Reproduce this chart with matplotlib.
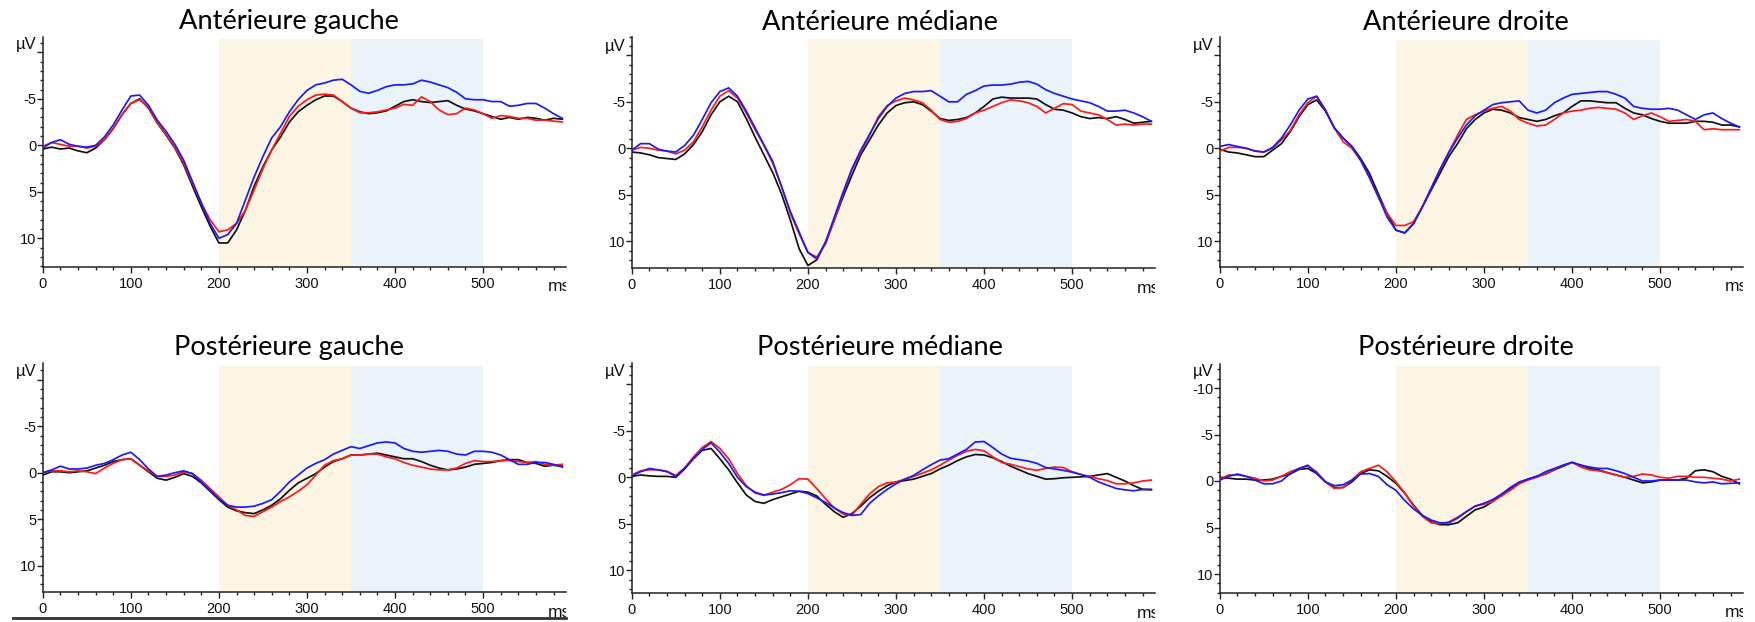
import numpy as np
import matplotlib
matplotlib.use("Agg")
import matplotlib.pyplot as plt
from matplotlib.ticker import MultipleLocator, FixedLocator, FixedFormatter
from matplotlib.transforms import Bbox, TransformedBbox
from matplotlib.lines import Line2D

# ---------------- data (µV, negative up) ----------------
time_ms = np.arange(0, 600, 10)

titles = ["Antérieure gauche", "Antérieure médiane", "Antérieure droite",
          "Postérieure gauche", "Postérieure médiane", "Postérieure droite"]

x_ticks = [0, 100, 200, 300, 400, 500]
x_ticklabels = ["0", "100", "200", "300", "400", "500"]
y_ticks = [-10, -5, 0, 5, 10]
window1 = (200, 350)
window2 = (350, 500)

ant_gauche_noir = [
    0.4, 0.2, 0.4, 0.3, 0.6, 0.8, 0.3, -0.6, -1.8, -3.3,
    -4.5, -5.0, -4.0, -2.4, -1.1, 0.3, 2.1, 4.4, 6.6, 8.7,
    10.5, 10.5, 9.1, 7.0, 4.4, 2.3, 0.5, -0.9, -2.5, -3.6,
    -4.3, -4.9, -5.3, -5.3, -4.7, -4.0, -3.6, -3.4, -3.5, -3.7,
    -4.2, -4.7, -4.9, -4.7, -4.6, -4.7, -4.8, -4.3, -3.9, -3.7,
    -3.4, -3.1, -2.8, -3.0, -2.8, -3.0, -2.9, -2.7, -2.9, -2.8]
ant_gauche_rouge = [
    0.1, -0.3, -0.1, 0.1, 0.1, 0.3, 0.1, -0.6, -1.8, -3.3,
    -4.5, -4.9, -4.1, -2.4, -1.2, 0.2, 1.9, 4.1, 6.2, 8.0,
    9.3, 9.1, 8.4, 7.0, 4.8, 2.5, 0.5, -1.3, -3.1, -4.2,
    -4.9, -5.4, -5.5, -5.4, -4.7, -4.0, -3.5, -3.5, -3.6, -3.8,
    -4.0, -4.4, -4.3, -5.2, -4.7, -3.8, -3.3, -3.4, -4.0, -3.8,
    -3.4, -2.9, -3.2, -3.1, -2.9, -2.9, -2.7, -2.7, -2.6, -2.5]
ant_gauche_bleu = [
    0.3, -0.3, -0.6, -0.1, 0.1, 0.2, 0.0, -0.9, -2.2, -3.8,
    -5.3, -5.4, -4.3, -2.7, -1.5, -0.1, 1.6, 3.9, 6.2, 8.4,
    10.0, 9.6, 8.4, 5.9, 3.4, 1.2, -0.8, -2.0, -3.6, -4.9,
    -5.9, -6.5, -6.7, -7.0, -7.1, -6.5, -5.8, -5.6, -5.9, -6.3,
    -6.5, -6.5, -6.6, -7.0, -6.8, -6.5, -6.2, -5.7, -5.0, -4.9,
    -4.9, -4.7, -4.7, -4.2, -4.3, -4.5, -4.5, -4.0, -3.4, -2.9]

ant_mediane_noir = [
    0.4, 0.5, 0.7, 1.0, 1.1, 1.2, 0.6, -0.4, -1.8, -3.6,
    -5.0, -5.6, -5.0, -3.2, -1.2, 0.7, 2.6, 4.9, 7.7, 10.8,
    12.6, 12.0, 10.1, 7.7, 5.2, 2.9, 0.7, -0.9, -2.5, -3.8,
    -4.6, -4.9, -5.0, -4.7, -4.0, -3.2, -3.0, -3.1, -3.3, -3.8,
    -4.5, -5.3, -5.5, -5.4, -5.4, -5.4, -5.3, -4.7, -4.2, -4.1,
    -3.8, -3.4, -3.2, -3.3, -3.2, -3.4, -3.1, -2.7, -2.8, -2.9]
ant_mediane_rouge = [
    0.2, -0.1, 0.0, 0.2, 0.3, 0.6, 0.2, -0.7, -2.3, -4.1,
    -5.6, -6.2, -5.4, -3.8, -2.0, -0.3, 1.6, 4.1, 7.0, 9.2,
    11.2, 11.7, 10.3, 7.7, 4.9, 2.3, 0.4, -1.4, -3.4, -4.6,
    -5.1, -5.4, -5.2, -4.9, -4.1, -3.1, -2.8, -2.9, -3.2, -3.8,
    -4.1, -4.5, -4.9, -5.2, -5.1, -4.9, -4.5, -3.8, -4.3, -4.8,
    -4.7, -4.0, -3.8, -3.6, -3.1, -2.5, -2.6, -2.5, -2.6, -2.6]
ant_mediane_bleu = [
    0.2, -0.5, -0.5, 0.1, 0.3, 0.4, -0.3, -1.4, -3.1, -4.9,
    -6.1, -6.5, -5.6, -4.0, -2.2, -0.4, 1.4, 4.1, 6.8, 9.0,
    11.2, 11.9, 10.1, 7.4, 4.7, 2.2, 0.2, -1.5, -3.2, -4.5,
    -5.4, -5.9, -6.1, -6.1, -6.2, -5.6, -5.0, -5.0, -5.8, -6.2,
    -6.7, -6.8, -6.8, -6.9, -7.1, -7.2, -6.9, -6.3, -5.9, -5.6,
    -5.3, -5.1, -4.9, -4.5, -4.0, -4.0, -4.1, -3.8, -3.4, -2.9]

ant_droite_noir = [
    0.1, 0.4, 0.5, 0.7, 0.9, 0.9, 0.2, -0.5, -1.8, -3.4,
    -4.7, -5.2, -4.0, -2.2, -1.1, -0.2, 1.1, 2.7, 4.9, 7.0,
    8.8, 9.1, 8.1, 6.3, 4.5, 2.7, 0.9, -0.5, -2.1, -3.1,
    -3.8, -4.2, -4.1, -3.8, -3.3, -3.1, -2.9, -3.1, -3.5, -3.8,
    -4.5, -5.1, -5.1, -5.0, -4.9, -4.9, -4.3, -3.8, -3.6, -3.2,
    -2.9, -2.7, -2.7, -2.7, -2.9, -2.9, -2.8, -2.5, -2.5, -2.3]
ant_droite_rouge = [
    0.3, -0.1, -0.1, 0.0, 0.3, 0.4, 0.0, -0.9, -1.9, -3.6,
    -4.9, -5.6, -4.1, -2.2, -0.7, 0.0, 1.3, 3.2, 5.2, 7.0,
    8.3, 8.3, 7.9, 6.3, 4.3, 2.3, 0.4, -1.4, -3.1, -3.6,
    -4.0, -4.3, -4.5, -4.0, -3.1, -2.7, -2.4, -2.5, -3.1, -3.8,
    -4.0, -4.1, -4.3, -4.4, -4.3, -4.2, -3.8, -3.1, -3.5, -3.8,
    -3.4, -2.9, -3.0, -3.1, -2.9, -2.0, -2.1, -2.0, -2.0, -2.0]
ant_droite_bleu = [
    -0.2, -0.4, -0.2, 0.0, 0.3, 0.4, -0.1, -1.1, -2.5, -4.1,
    -5.3, -5.6, -4.1, -2.2, -1.1, -0.2, 1.3, 3.1, 5.2, 7.4,
    8.8, 9.1, 8.1, 6.3, 4.3, 2.3, 0.5, -1.1, -2.5, -3.5,
    -4.1, -4.7, -4.9, -5.0, -5.1, -4.1, -3.8, -4.1, -4.9, -5.4,
    -5.8, -5.9, -6.0, -6.1, -6.1, -5.8, -5.4, -4.5, -4.3, -4.2,
    -4.2, -4.3, -4.1, -3.6, -3.1, -3.6, -3.8, -3.2, -2.7, -2.3]

post_gauche_noir = [
    0.25, -0.1, -0.1, 0.0, -0.1, -0.2, -0.5, -0.8, -1.2, -1.4,
    -1.5, -0.8, -0.1, 0.6, 0.8, 0.5, 0.1, 0.4, 1.1, 2.0,
    2.9, 3.7, 4.1, 4.3, 4.4, 4.0, 3.5, 2.8, 1.9, 1.1,
    0.6, 0.1, -0.6, -1.2, -1.5, -1.9, -1.9, -2.0, -2.1, -1.9,
    -1.7, -1.5, -1.5, -1.2, -0.8, -0.5, -0.3, -0.4, -0.6, -0.9,
    -1.0, -1.1, -1.3, -1.4, -1.4, -1.1, -1.0, -0.7, -0.8, -0.7]
post_gauche_rouge = [
    0.0, -0.2, -0.2, -0.1, -0.2, -0.1, 0.1, -0.5, -1.0, -1.4,
    -1.5, -0.8, -0.2, 0.4, 0.4, 0.25, -0.1, 0.1, 0.8, 1.7,
    2.6, 3.5, 4.0, 4.6, 4.7, 4.2, 3.7, 3.1, 2.6, 2.0,
    1.3, 0.25, -0.8, -1.3, -1.5, -1.9, -1.9, -2.0, -2.0, -1.7,
    -1.5, -1.1, -0.8, -0.6, -0.4, -0.3, -0.3, -0.5, -1.0, -1.3,
    -1.2, -1.2, -1.3, -1.3, -1.2, -1.1, -1.2, -0.9, -0.8, -0.9]
post_gauche_bleu = [
    0.0, -0.3, -0.7, -0.4, -0.4, -0.5, -0.8, -1.0, -1.4, -1.9,
    -2.2, -1.4, -0.4, 0.4, 0.25, 0.0, -0.2, 0.1, 1.0, 1.9,
    2.8, 3.5, 3.7, 3.7, 3.6, 3.3, 2.9, 2.0, 1.0, 0.25,
    -0.5, -1.0, -1.4, -2.0, -2.4, -2.8, -2.6, -2.9, -3.2, -3.3,
    -3.2, -2.6, -2.3, -2.2, -2.3, -2.4, -2.3, -2.0, -1.9, -2.3,
    -2.3, -2.2, -1.9, -1.4, -0.9, -0.9, -1.1, -1.1, -0.9, -0.6]

post_mediane_noir = [
    -0.1, -0.25, -0.15, -0.1, -0.1, 0.0, -0.9, -2.0, -2.9, -3.1,
    -2.0, -0.8, 0.6, 1.9, 2.6, 2.8, 2.4, 2.1, 1.8, 1.5,
    1.6, 2.0, 2.9, 3.7, 4.3, 3.9, 3.1, 2.2, 1.5, 0.9,
    0.5, 0.35, 0.2, -0.1, -0.4, -0.9, -1.3, -1.8, -2.2, -2.45,
    -2.4, -2.1, -1.7, -1.2, -0.8, -0.4, -0.1, 0.2, 0.15, 0.05,
    0.0, -0.05, -0.1, -0.25, -0.4, 0.0, 0.4, 0.9, 1.3, 1.3]
post_mediane_rouge = [
    -0.25, -0.7, -0.8, -0.8, -0.65, -0.2, -1.0, -2.2, -3.2, -3.85,
    -3.1, -2.0, -0.4, 0.9, 1.7, 1.95, 1.6, 1.3, 0.8, 0.15,
    0.2, 1.2, 2.3, 3.3, 3.95, 4.1, 2.9, 1.8, 1.0, 0.6,
    0.5, 0.2, -0.1, -0.45, -0.8, -1.3, -1.85, -2.35, -2.8, -3.0,
    -2.85, -2.2, -1.6, -1.4, -1.15, -0.9, -0.75, -0.95, -1.1, -1.05,
    -0.6, -0.3, -0.1, 0.15, 0.35, 0.7, 0.7, 0.6, 0.4, 0.3]
post_mediane_bleu = [
    -0.15, -0.6, -0.95, -0.8, -0.6, -0.1, -1.0, -2.0, -3.0, -3.7,
    -2.7, -1.5, 0.0, 1.0, 1.6, 1.9, 1.8, 1.65, 1.45, 1.5,
    1.75, 2.2, 2.7, 3.3, 3.8, 4.1, 4.0, 2.8, 2.0, 1.3,
    0.7, 0.2, -0.2, -0.8, -1.35, -1.85, -2.0, -2.5, -3.0, -3.8,
    -3.85, -3.2, -2.5, -2.05, -1.9, -1.75, -1.5, -1.05, -0.9, -0.75,
    -0.55, -0.3, 0.0, 0.5, 0.85, 1.2, 1.35, 1.45, 1.3, 1.35]

post_droite_noir = [
    -0.4, -0.3, -0.2, -0.2, -0.1, -0.1, -0.2, -0.5, -0.75, -1.25,
    -1.35, -0.8, 0.1, 0.7, 0.7, 0.1, -0.8, -1.2, -1.1, -0.5,
    0.25, 1.3, 2.6, 3.7, 4.4, 4.7, 4.7, 4.5, 3.8, 3.1,
    2.8, 2.2, 1.5, 0.8, 0.25, -0.2, -0.5, -0.75, -1.2, -1.6,
    -2.0, -1.7, -1.35, -1.2, -0.9, -0.65, -0.4, -0.1, 0.2, 0.1,
    -0.1, -0.1, -0.1, -0.3, -1.1, -1.2, -1.0, -0.5, -0.2, 0.3]
post_droite_rouge = [
    -0.2, -0.65, -0.65, -0.5, -0.3, 0.0, -0.1, -0.5, -1.0, -1.35,
    -1.6, -1.0, 0.1, 0.8, 0.7, -0.1, -1.0, -1.35, -1.7, -1.0,
    0.1, 1.3, 2.7, 3.8, 4.5, 4.6, 4.4, 3.9, 3.3, 2.7,
    2.5, 2.2, 1.6, 1.0, 0.3, -0.1, -0.4, -0.8, -1.25, -1.7,
    -2.0, -1.5, -1.2, -1.1, -0.9, -0.65, -0.4, -0.5, -0.75, -0.65,
    -0.4, -0.3, -0.5, -0.5, -0.4, -0.4, -0.3, -0.2, 0.0, -0.2]
post_droite_bleu = [
    -0.1, -0.5, -0.75, -0.5, -0.1, 0.3, 0.3, 0.0, -0.8, -1.35,
    -1.7, -0.8, 0.1, 0.5, 0.4, -0.1, -0.75, -0.8, -0.5, 0.4,
    1.0, 2.1, 3.0, 3.7, 4.2, 4.5, 4.5, 4.0, 3.3, 2.7,
    2.4, 2.0, 1.4, 0.7, 0.1, -0.2, -0.5, -1.0, -1.35, -1.7,
    -2.0, -1.7, -1.5, -1.35, -1.35, -1.1, -0.8, -0.4, 0.0, 0.0,
    -0.1, -0.1, -0.1, -0.1, 0.1, 0.2, 0.1, 0.3, 0.25, 0.2]

series_noir = [ant_gauche_noir, ant_mediane_noir, ant_droite_noir,
               post_gauche_noir, post_mediane_noir, post_droite_noir]
series_rouge = [ant_gauche_rouge, ant_mediane_rouge, ant_droite_rouge,
                post_gauche_rouge, post_mediane_rouge, post_droite_rouge]
series_bleu = [ant_gauche_bleu, ant_mediane_bleu, ant_droite_bleu,
               post_gauche_bleu, post_mediane_bleu, post_droite_bleu]

# ---------------- layout (pixels) ----------------
W, H = 1756, 622
PX_PER_MS = 0.8806
PX_PER_UV = 9.3
XMAX = 594
# left, top, x-axis y, zero-line y
layout = [
    (42.8, 36.7, 266.7, 145.3),
    (631.8, 36.7, 268.3, 148.3),
    (1219.8, 37.3, 266.7, 148.3),
    (42.8, 363.3, 592.3, 472.7),
    (631.8, 363.3, 593.3, 477.3),
    (1219.8, 364.0, 592.7, 481.0),
]
title_pos = [(289, 29.5), (880, 29.5), (1466, 29.5),
             (289, 355), (880, 355), (1466, 355)]
uv_y = [-10.8, -10.9, -11.05, -10.9, -11.4, -11.8]

COL_YEL = "#fdf5e3"
COL_BLU = "#eaf2fa"
TICK_FONT = "Liberation Sans"

fig = plt.figure(figsize=(W / 100, H / 100), dpi=100)

for i in range(6):
    left, top, xax, zero = layout[i]
    wpx = XMAX * PX_PER_MS
    hpx = xax - top
    ax = fig.add_axes([left / W, 1 - xax / H, wpx / W, hpx / H])
    ax.set_xlim(0, XMAX)
    ax.set_ylim((xax - zero) / PX_PER_UV, -(zero - top) / PX_PER_UV)

    ax.axvspan(*window1, ymin=0, ymax=0.99, color=COL_YEL, lw=0, zorder=0)
    ax.axvspan(*window2, ymin=0, ymax=0.99, color=COL_BLU, lw=0, zorder=0)

    ax.plot(time_ms, series_noir[i], color="#111111", lw=1.25, zorder=3)
    ax.plot(time_ms, series_rouge[i], color="#ff1a1a", lw=1.25, zorder=4)
    ax.plot(time_ms, series_bleu[i], color="#1a1aff", lw=1.25, zorder=5)

    for s in ["top", "right"]:
        ax.spines[s].set_visible(False)
    for s in ["left", "bottom"]:
        ax.spines[s].set_linewidth(1.1)
        ax.spines[s].set_color("#222222")

    ax.xaxis.set_major_locator(FixedLocator(x_ticks))
    ax.xaxis.set_major_formatter(FixedFormatter(x_ticklabels))
    ax.xaxis.set_minor_locator(MultipleLocator(20))
    ylabels = [("-10" if i == 5 else "")] + ["-5", "0", "5", "10"]
    ax.yaxis.set_major_locator(FixedLocator(y_ticks))
    ax.yaxis.set_major_formatter(FixedFormatter(ylabels))
    ax.yaxis.set_minor_locator(MultipleLocator(1))

    ax.tick_params(axis="both", which="major", direction="out", length=4.2,
                   width=1.0, color="#222222", labelsize=10.5,
                   labelcolor="#111111")
    ax.tick_params(axis="both", which="minor", direction="out", length=2.3,
                   width=1.0, color="#222222")
    ax.tick_params(axis="y", which="major", pad=0.6)
    ax.tick_params(axis="x", which="major", pad=3.0)
    for lab in ax.get_xticklabels() + ax.get_yticklabels():
        lab.set_family(TICK_FONT)

    ax.annotate("µV", xy=(0, uv_y[i]), xycoords="data",
                xytext=(-4.6, 0), textcoords="offset points",
                ha="right", va="center", fontsize=12, family=TICK_FONT,
                color="#111111", annotation_clip=False)

    ms = ax.annotate("ms", xy=(574, 0), xycoords=("data", "axes fraction"),
                     xytext=(0, -14.5), textcoords="offset points",
                     ha="left", va="center", fontsize=12.5, family=TICK_FONT,
                     color="#111111", annotation_clip=False)
    ms.set_clip_on(True)
    ms.set_clip_box(TransformedBbox(Bbox([[-0.2, -0.5], [1.0, 1.2]]),
                                    ax.transAxes))

    tx, ty = title_pos[i]
    fig.text(tx / W, 1 - ty / H, titles[i], ha="center", va="baseline",
             fontsize=19.6, family="Lato", color="#000000")

fig.add_artist(Line2D([13.4 / W, 565.6 / W], [1 - 617.7 / H, 1 - 617.7 / H],
                      transform=fig.transFigure, color="#333333", lw=2.0))

fig.savefig("out.png", dpi=100)
